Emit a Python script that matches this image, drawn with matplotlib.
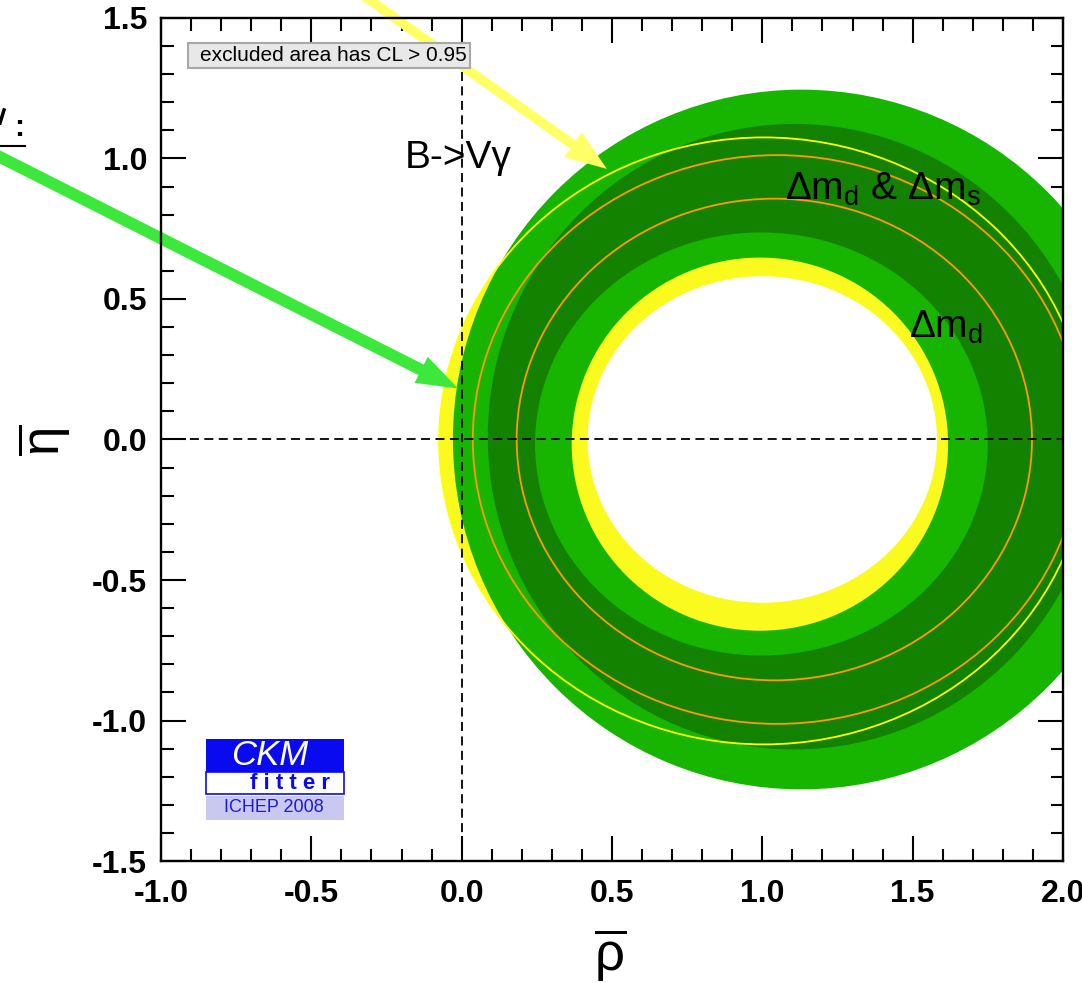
import numpy as np
import matplotlib
matplotlib.use("Agg")
import matplotlib.pyplot as plt
from matplotlib.patches import Ellipse, Rectangle, FancyArrowPatch
from matplotlib.lines import Line2D
from matplotlib.ticker import MultipleLocator, FormatStrFormatter

plt.rcParams['font.family'] = ['Liberation Sans', 'DejaVu Sans']
plt.rcParams['mathtext.fontset'] = 'custom'
plt.rcParams['mathtext.rm'] = 'Liberation Sans'
plt.rcParams['mathtext.it'] = 'Liberation Sans:italic'
plt.rcParams['mathtext.bf'] = 'Liberation Sans:bold'

# 95% CL boundaries in the (rho, eta) plane: centre rho, centre eta, half-width, half-height
bvg_outer = [1.005, -0.005, 1.08, 1.08]
bvg_inner = [1.0, 0.0, 0.581, 0.581]
dmd_outer = [1.13, 0.0, 1.159, 1.245]
dmd_inner = [0.992, -0.0165, 0.626, 0.664]
dms_outer = [1.107, 0.01, 1.02, 1.113]
dms_inner = [0.997, -0.016, 0.753, 0.753]
# contour lines of the combined fit (centre rho, centre eta, radius)
orange_contours = [[1.04, 0.0, 0.857], [1.049, 0.0, 1.012]]

x_range = [-1.0, 2.0]
y_range = [-1.5, 1.5]

# annotation arrows (tail, head) in rho/eta
yellow_arrow = [(-0.441, 1.667), (0.483, 0.963)]
green_arrow = [(-1.635, 1.059), (-0.011, 0.181)]

c_yellow = '#fafa1e'
c_green = '#17b400'
c_dark = '#138200'
c_orange = '#ff9a00'

fig = plt.figure(figsize=(10.82, 9.83), dpi=100)
ax = fig.add_axes([0.1488, 0.1241, 0.8336, 0.8576])
ax.set_xlim(*x_range)
ax.set_ylim(*y_range)


def ell(p, **kw):
    return Ellipse((p[0], p[1]), 2 * p[2], 2 * p[3], **kw)


# filled regions, painted from outside in
ax.add_patch(ell(bvg_outer, facecolor=c_yellow, edgecolor='none', zorder=1))
ax.add_patch(ell(dmd_outer, facecolor=c_green, edgecolor='none', zorder=2))
ax.add_patch(ell(dms_outer, facecolor=c_dark, edgecolor='none', zorder=3))
ax.add_patch(ell(dms_inner, facecolor=c_green, edgecolor='none', zorder=4))
ax.add_patch(ell(dmd_inner, facecolor=c_yellow, edgecolor='none', zorder=5))
ax.add_patch(ell(bvg_inner, facecolor='white', edgecolor='none', zorder=6))

# contour lines
for c in orange_contours:
    ax.add_patch(Ellipse((c[0], c[1]), 2 * c[2], 2 * c[2], fill=False,
                         edgecolor=c_orange, lw=1.3, zorder=7))
ax.add_patch(ell(bvg_outer, fill=False, edgecolor='#ffff00', lw=1.3, zorder=7))

# dashed axes through the origin
ax.axhline(0, color='black', lw=1.3, ls=(0, (5, 3)), zorder=8)
ax.axvline(0, color='black', lw=1.3, ls=(0, (5, 3)), zorder=8)

# labels on the plot
ax.text(-0.188, 1.0, 'B->Vγ', fontsize=28, va='center', ha='left', zorder=7.5)
ax.text(1.728, 0.89, r'$\Delta\mathrm{m_d}$ & $\Delta\mathrm{m_s}$', fontsize=28,
        va='center', ha='right', zorder=9)
ax.text(1.735, 0.40, r'$\Delta\mathrm{m_d}$', fontsize=28, va='center', ha='right', zorder=9)

# arrows
for (tail, head), col, tw, hw, hl in [(yellow_arrow, '#ffff66', 7, 22, 30),
                                      (green_arrow, '#3ce83c', 8.5, 21, 30)]:
    arr = FancyArrowPatch(tail, head, transform=ax.transData,
                          arrowstyle=f'simple,head_length={hl},head_width={hw},tail_width={tw}',
                          mutation_scale=1, shrinkA=0, shrinkB=0,
                          facecolor=col, edgecolor='none', clip_on=False, zorder=10)
    ax.add_patch(arr)

# CL box
box = Rectangle((0.030, 0.9407), 0.3126, 0.0296, transform=ax.transAxes,
                facecolor='#e8e8e8', edgecolor='#a8a8a8', lw=1.5, zorder=11)
ax.add_patch(box)
t = ax.text(0.0432, 0.9552, 'excluded area has CL > 0.95', transform=ax.transAxes,
            fontsize=15, va='center', ha='left', zorder=12)
t.set_clip_path(box)

# CKMfitter logo
ax.add_patch(Rectangle((0.0499, 0.1056), 0.1530, 0.0391, transform=ax.transAxes,
                       facecolor='#0a0af0', edgecolor='none', zorder=11))
ax.add_patch(Rectangle((0.0499, 0.0795), 0.1530, 0.0261, transform=ax.transAxes,
                       facecolor='white', edgecolor='#0a0af0', lw=1.2, zorder=11))
ax.add_patch(Rectangle((0.0499, 0.0486), 0.1530, 0.0285, transform=ax.transAxes,
                       facecolor='#c8c8f0', edgecolor='none', zorder=11))
ax.text(0.1208, 0.1250, 'CKM', transform=ax.transAxes, color='white', fontsize=25,
        style='italic', ha='center', va='center', zorder=12)
ax.text(0.1430, 0.0925, 'f i t t e r', transform=ax.transAxes, color='#0a0af0', fontsize=16,
        weight='bold', ha='center', va='center', zorder=12)
ax.text(0.1253, 0.0629, 'ICHEP 2008', transform=ax.transAxes, color='#1a1ae0', fontsize=13,
        ha='center', va='center', zorder=12)

# axes styling
for s in ax.spines.values():
    s.set_linewidth(1.7)
    s.set_zorder(20)
ax.xaxis.set_major_locator(MultipleLocator(0.5))
ax.xaxis.set_minor_locator(MultipleLocator(0.1))
ax.yaxis.set_major_locator(MultipleLocator(0.5))
ax.yaxis.set_minor_locator(MultipleLocator(0.1))
ax.xaxis.set_major_formatter(FormatStrFormatter('%.1f'))
ax.yaxis.set_major_formatter(FormatStrFormatter('%.1f'))
ax.tick_params(which='both', direction='in', top=True, right=True, width=1.5, zorder=20)
ax.tick_params(which='major', length=18, labelsize=23)
ax.tick_params(which='minor', length=9)
ax.tick_params(axis='x', pad=13)
ax.tick_params(axis='y', pad=10)
for lab in ax.get_xticklabels() + ax.get_yticklabels():
    lab.set_fontweight('bold')

fig.text(610 / 1082, 1 - 955 / 983, r'$\overline{\mathrm{\rho}}$', fontsize=38,
         ha='center', va='center')
fig.text(44 / 1082, 1 - 440 / 983, r'$\overline{\mathrm{\eta}}$', fontsize=38,
         ha='center', va='center', rotation=90)

# remnant of a caption cut at the left border
fig.text(24 / 1082, 1 - 128 / 983, ':', fontsize=22, ha='right', va='center', weight='bold')
fig.add_artist(Line2D([0, 4 / 1082], [1 - 123 / 983, 1 - 110 / 983], color='black', lw=2.5))
fig.add_artist(Line2D([0, 25 / 1082], [1 - 146 / 983] * 2, color='black', lw=1.5))

fig.savefig('out.png', dpi=100)
